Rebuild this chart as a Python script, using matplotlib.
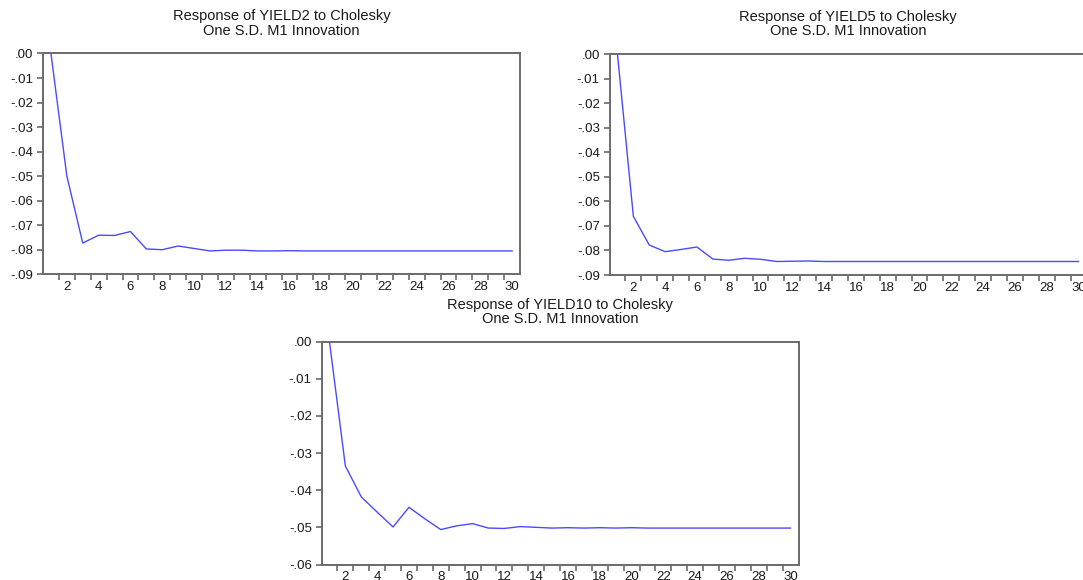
import numpy as np
import matplotlib
matplotlib.use("Agg")
import matplotlib.pyplot as plt
from matplotlib.ticker import FuncFormatter

plt.rcParams["font.family"] = ["Liberation Sans", "DejaVu Sans"]

periods = list(range(1, 31))

yield2 = [0.0, -0.0499, -0.0772, -0.0740, -0.0741, -0.0725, -0.0796, -0.0799, -0.0784, -0.0794,
          -0.0804, -0.0801, -0.0801, -0.0804, -0.0804, -0.0803, -0.0804, -0.0804, -0.0804, -0.0804,
          -0.0804, -0.0804, -0.0804, -0.0804, -0.0804, -0.0804, -0.0804, -0.0804, -0.0804, -0.0804]
yield5 = [0.0, -0.0661, -0.0778, -0.0805, -0.0796, -0.0786, -0.0835, -0.0840, -0.0832, -0.0836,
          -0.0845, -0.0844, -0.0843, -0.0845, -0.0845, -0.0845, -0.0845, -0.0845, -0.0845, -0.0845,
          -0.0845, -0.0845, -0.0845, -0.0845, -0.0845, -0.0845, -0.0845, -0.0845, -0.0845, -0.0845]
yield10 = [0.0, -0.0335, -0.0418, -0.0459, -0.0499, -0.0446, -0.0477, -0.0506, -0.0496, -0.0490,
           -0.0502, -0.0503, -0.0498, -0.0500, -0.0502, -0.0501, -0.0502, -0.0501, -0.0502, -0.0501,
           -0.0502, -0.0502, -0.0502, -0.0502, -0.0502, -0.0502, -0.0502, -0.0502, -0.0502, -0.0502]

panels = [
    ("YIELD2", yield2, -0.09, [43 / 1083, 1 - 274.5 / 580, 477 / 1083, 221 / 580], 13.5),
    ("YIELD5", yield5, -0.09, [609.5 / 1083, 1 - 275 / 580, 477 / 1083, 221 / 580], 13.5),
    ("YIELD10", yield10, -0.06, [321.5 / 1083, 1 - 564.5 / 580, 477 / 1083, 223 / 580], 13),
]

W, H = 1083, 580
fig = plt.figure(figsize=(W / 100, H / 100), dpi=100)

spine_color = "#6a6a6a"
text_color = "#1a1a1a"


def eviews_fmt(v, pos):
    s = "{:.2f}".format(v)
    s = s.replace("0.", ".", 1)
    if s == "-.00":
        s = ".00"
    return s


for name, values, ymin, rect, pad in panels:
    ax = fig.add_axes(rect)
    ax.plot(periods, values, color="#4a4aff", lw=1.0)
    ax.set_xlim(0.5, 30.5)
    ax.set_ylim(ymin, 0.0)
    ax.set_yticks(np.arange(ymin, 0.0001, 0.01))
    ax.yaxis.set_major_formatter(FuncFormatter(eviews_fmt))
    # ticks between periods, labels on even periods
    ax.set_xticks(np.arange(1.5, 30, 1.0))
    ax.set_xticklabels([])
    ax.set_xticks(range(2, 31, 2), minor=True)
    ax.set_xticklabels([str(p) for p in range(2, 31, 2)], minor=True)
    ax.tick_params(axis="x", which="major", direction="out", length=4, width=1.2, color=spine_color)
    ax.tick_params(axis="x", which="minor", length=0, pad=5, labelsize=9.5, labelcolor=text_color)
    ax.tick_params(axis="y", direction="out", length=4, width=1.2, color=spine_color,
                   labelsize=9.5, labelcolor=text_color, pad=3)
    for sp in ax.spines.values():
        sp.set_color(spine_color)
        sp.set_linewidth(1.4)
    ax.set_title("Response of {} to Cholesky\nOne S.D. M1 Innovation".format(name),
                 fontsize=10.5, color=text_color, pad=pad, linespacing=1.05)

fig.savefig("out.png", dpi=100)
